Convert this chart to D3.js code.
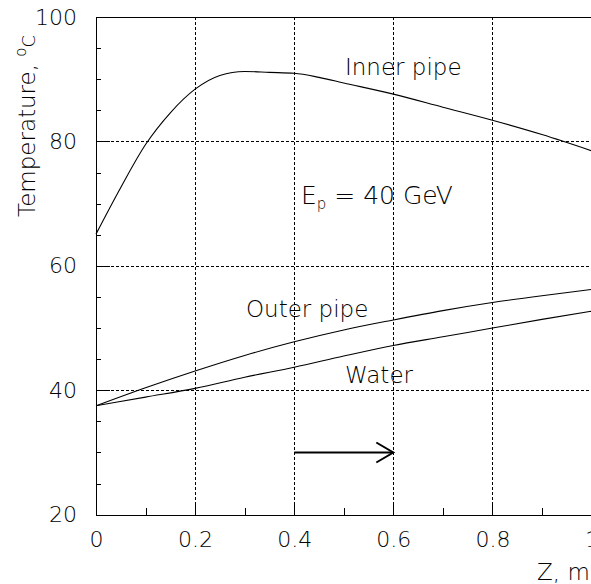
<!DOCTYPE html>
<meta charset="utf-8">
<head>
  <title>Temperature along Z</title>
  <script src="https://cdn.jsdelivr.net/npm/d3@7"></script>
  <style>
    body {margin: 0; background: #fff;}
    text {font-family: "DejaVu Sans", sans-serif; fill: #000; font-weight: 300;}
    .axis path, .axis line {stroke: #000; stroke-width: 1; shape-rendering: crispEdges;}
    .grid {stroke: #000; stroke-width: 1; stroke-dasharray: 3,2; shape-rendering: crispEdges;}
    .curve {fill: none; stroke: #000; stroke-width: 1.1;}
  </style>
</head>
<body>
<div id="chart"></div>
<script>
// values
var zValues     = [0, 0.05, 0.1, 0.15, 0.2, 0.25, 0.3, 0.35, 0.4, 0.45, 0.5, 0.6, 0.7, 0.8, 0.9, 1.0];
var innerPipe   = [65.1, 72.6, 79.5, 84.6, 88.4, 90.6, 91.25, 91.1, 90.95, 90.3, 89.4, 87.6, 85.5, 83.4, 81.1, 78.5];
var zCoarse     = [0, 0.1, 0.2, 0.3, 0.4, 0.5, 0.6, 0.7, 0.8, 0.9, 1.0];
var outerPipe   = [37.5, 40.4, 43.1, 45.6, 47.8, 49.7, 51.3, 52.8, 54.1, 55.2, 56.2];
var water       = [37.5, 38.9, 40.3, 42.1, 43.7, 45.5, 47.2, 48.6, 50.0, 51.4, 52.7];
var xTicks      = [0, 0.2, 0.4, 0.6, 0.8, 1];
var yTicks      = [20, 40, 60, 80, 100];
var xGrid       = [0.2, 0.4, 0.6, 0.8];
var yGrid       = [40, 60, 80];
var arrowFrom   = [0.4, 30];
var arrowTo     = [0.6, 30];

var width = 591, height = 584;

var svg = d3.select("#chart").append("svg")
    .attr("width", width)
    .attr("height", height);

var x = d3.scaleLinear().domain([0, 1]).range([96, 591.5]);
var y = d3.scaleLinear().domain([20, 100]).range([514.7, 17]);

// grid
svg.selectAll(".gx").data(xGrid).enter().append("line")
    .attr("class", "grid")
    .attr("x1", d => Math.round(x(d)) + 0.5).attr("x2", d => Math.round(x(d)) + 0.5)
    .attr("y1", y(100)).attr("y2", y(20));
svg.selectAll(".gy").data(yGrid).enter().append("line")
    .attr("class", "grid")
    .attr("x1", x(0)).attr("x2", x(1))
    .attr("y1", d => Math.round(y(d)) + 0.5).attr("y2", d => Math.round(y(d)) + 0.5);

// minor ticks
svg.append("g").attr("class", "axis")
    .attr("transform", "translate(" + x(0) + ",0)")
    .call(d3.axisLeft(y).tickValues(d3.range(20, 100, 5)).tickSize(-5).tickFormat("").tickSizeOuter(0));
svg.append("g").attr("class", "axis")
    .attr("transform", "translate(0," + y(20) + ")")
    .call(d3.axisBottom(x).tickValues(d3.range(0, 1.01, 0.1)).tickSize(-7).tickFormat("").tickSizeOuter(0));

// major ticks with labels
var yAxis = svg.append("g").attr("class", "axis")
    .attr("transform", "translate(" + x(0) + ",0)")
    .call(d3.axisLeft(y).tickValues(yTicks).tickSize(-14).tickPadding(19).tickSizeOuter(0));
var xAxis = svg.append("g").attr("class", "axis")
    .attr("transform", "translate(0," + y(20) + ")")
    .call(d3.axisBottom(x).tickValues(xTicks).tickSize(-13).tickPadding(17).tickSizeOuter(0)
      .tickFormat(d => d === 0 || d === 1 ? d3.format("d")(d) : d3.format(".1f")(d)));
svg.selectAll(".axis text").style("font-size", "22px").style("font-family", "DejaVu Sans").style("font-weight", 300);

// top frame
svg.append("line")
    .attr("x1", x(0)).attr("x2", x(1))
    .attr("y1", Math.round(y(100)) + 0.5).attr("y2", Math.round(y(100)) + 0.5)
    .attr("stroke", "#000").attr("shape-rendering", "crispEdges");

// curves
var line = d3.line().x(d => x(d[0])).y(d => y(d[1])).curve(d3.curveMonotoneX);
svg.append("path").attr("class", "curve").attr("d", line(d3.zip(zValues, innerPipe)));
svg.append("path").attr("class", "curve").attr("d", line(d3.zip(zCoarse, outerPipe)));
svg.append("path").attr("class", "curve").attr("d", line(d3.zip(zCoarse, water)));

// arrow
svg.append("line")
    .attr("x1", x(arrowFrom[0])).attr("y1", y(arrowFrom[1]))
    .attr("x2", x(arrowTo[0])).attr("y2", y(arrowTo[1]))
    .attr("stroke", "#000").attr("stroke-width", 2);
svg.append("path")
    .attr("d", "M" + (x(arrowTo[0]) - 17) + "," + (y(arrowTo[1]) - 10) +
               "L" + x(arrowTo[0]) + "," + y(arrowTo[1]) +
               "L" + (x(arrowTo[0]) - 17) + "," + (y(arrowTo[1]) + 10))
    .attr("fill", "none").attr("stroke", "#000").attr("stroke-width", 2);

// labels
svg.append("text").attr("x", 345).attr("y", 75).style("font-size", "23px").text("Inner pipe");
svg.append("text").attr("x", 246).attr("y", 317).style("font-size", "23px").text("Outer pipe");
svg.append("text").attr("x", 345).attr("y", 383).style("font-size", "23px").text("Water");

var ep = svg.append("text").attr("x", 301).attr("y", 204).style("font-size", "25px");
ep.append("tspan").text("E");
ep.append("tspan").attr("dy", 5).style("font-size", "15px").text("p");
ep.append("tspan").attr("dy", -5).text(" = 40 GeV");

var yl = svg.append("text")
    .attr("transform", "translate(35,217) rotate(-90)")
    .style("font-size", "23px");
yl.append("tspan").text("Temperature, ");
yl.append("tspan").attr("dy", -9).style("font-size", "15px").text("o");
yl.append("tspan").attr("dy", 9).style("font-size", "18px").text("C");

svg.append("text").attr("x", 537).attr("y", 580).style("font-size", "23px").text("Z, m");
</script>
</body>
</html>
